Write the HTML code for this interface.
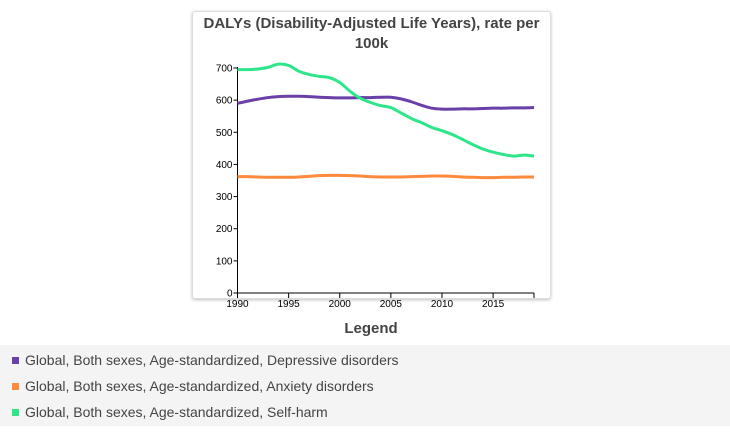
<!DOCTYPE html>
<html><head><meta charset="utf-8"><style>
body{margin:0;width:730px;height:433px;background:#fff;font-family:"Liberation Sans",Verdana,sans-serif;overflow:hidden;position:relative}
#card{position:absolute;left:192px;top:11px;width:357px;height:286px;border:1px solid #ddd;border-radius:3px;box-shadow:0 1px 3px rgba(0,0,0,.25);background:#fff}
#title{position:absolute;left:192px;top:14px;width:359px;text-align:center;font-weight:bold;font-size:15px;line-height:20px;color:#444}
#legtitle{position:absolute;left:0;width:742px;top:320px;text-align:center;font-weight:bold;font-size:15px;color:#444}
#legend{position:absolute;left:0;top:345px;width:730px;height:81px;background:#f4f4f4}
.le{position:absolute;left:12px;font-size:14px;color:#444;height:18px;line-height:18px}
.sw{display:inline-block;width:7px;height:7px;margin-right:6px;vertical-align:1px}
</style></head><body>
<div id="card"></div>
<div id="title">DALYs (Disability-Adjusted Life Years), rate per<br>100k</div>
<svg id="chart" width="730" height="433" style="position:absolute;left:0;top:0"></svg>
<div id="legtitle">Legend</div>
<div id="legend">
<div class="le" style="top:6px"><span class="sw" style="background:#6b3fa8"></span>Global, Both sexes, Age-standardized, Depressive disorders</div>
<div class="le" style="top:32px"><span class="sw" style="background:#ff8a3d"></span>Global, Both sexes, Age-standardized, Anxiety disorders</div>
<div class="le" style="top:58px"><span class="sw" style="background:#2ee58a"></span>Global, Both sexes, Age-standardized, Self-harm</div>
</div>
<script>
const years=[1990,1991,1992,1993,1994,1995,1996,1997,1998,1999,2000,2001,2002,2003,2004,2005,2006,2007,2008,2009,2010,2011,2012,2013,2014,2015,2016,2017,2018,2019];
const depressive=[590,597,603,608,611,612,612,611,609,608,607,607,608,608,609,609,604,595,584,575,572,572,573,573,574,575,575,576,576,577];
const anxiety=[362,362,361,360,360,360,361,363,365,366,366,365,364,362,361,361,361,362,363,364,364,363,361,360,359,359,360,360,361,361];
const selfHarm=[695,695,697,702,712,708,690,680,674,670,655,628,606,593,583,577,560,543,530,515,505,493,478,462,448,438,431,426,429,426];
const yTicks=[0,100,200,300,400,500,600,700];
const xTicks=[1990,1995,2000,2005,2010,2015];
const NS="http://www.w3.org/2000/svg";
const svg=document.getElementById('chart');
const x0=237.5,x1=534,y0=293,y1=68;
const X=v=>x0+(v-1990)/(2019-1990)*(x1-x0);
const Y=v=>y0-v/700*(y0-y1);
function mk(t,a){const e=document.createElementNS(NS,t);for(const k in a)e.setAttribute(k,a[k]);svg.appendChild(e);return e;}
const ya=mk('line',{x1:x0,x2:x0,y1:y1-1,y2:y0,stroke:'#000'});


const xa=mk('line',{x1:x0,x2:x1,y1:y0,y2:y0,stroke:'#000'});


mk('line',{x1:x1,x2:x1,y1:y0,y2:y0+5,stroke:'#000'});
yTicks.forEach(v=>{mk('line',{x1:x0-4,x2:x0,y1:Y(v),y2:Y(v),stroke:'#000'});
const t=mk('text',{x:x0-5,y:Y(v)+3.5,'text-anchor':'end','font-size':'10','font-family':'Liberation Sans, sans-serif'});t.textContent=v;

});
xTicks.forEach(v=>{mk('line',{x1:X(v),x2:X(v),y1:y0,y2:y0+5,stroke:'#000'});
const t=mk('text',{x:X(v),y:y0+14,'text-anchor':'middle','font-size':'10','font-family':'Liberation Sans, sans-serif'});t.textContent=v;

});
function path(vals){let d='';const p=vals.map((v,i)=>[X(years[i]),Y(v)]);
d='M'+p[0][0]+','+p[0][1];
for(let i=0;i<p.length-1;i++){const a=p[i-1]||p[i],b=p[i],c=p[i+1],e=p[i+2]||c;
d+=' C'+(b[0]+(c[0]-a[0])/6)+','+(b[1]+(c[1]-a[1])/6)+' '+(c[0]-(e[0]-b[0])/6)+','+(c[1]-(e[1]-b[1])/6)+' '+c[0]+','+c[1];}
return d;}
const l1=mk('path',{d:path(anxiety),fill:'none',stroke:'#ff8a3d','stroke-width':3});


const l2=mk('path',{d:path(depressive),fill:'none',stroke:'#6b3fa8','stroke-width':3});


const l3=mk('path',{d:path(selfHarm),fill:'none',stroke:'#2ee58a','stroke-width':3});


</script>
</body></html>
